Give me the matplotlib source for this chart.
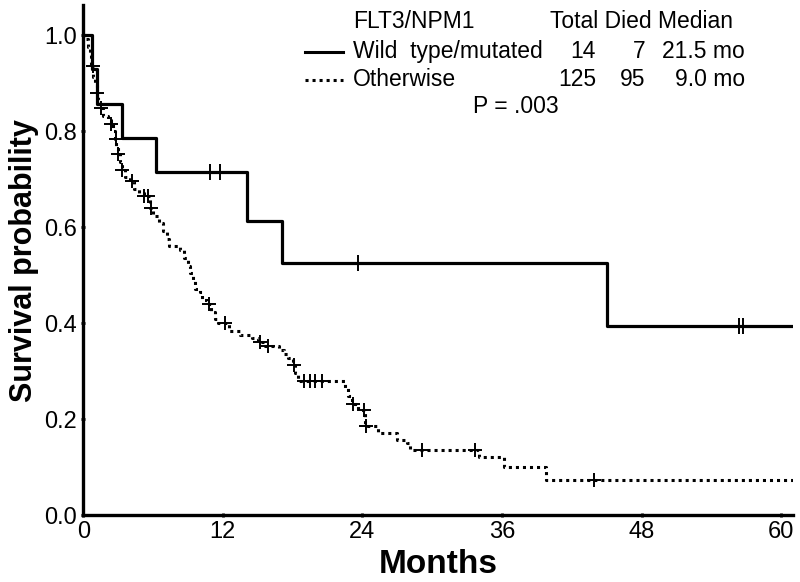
import numpy as np
import matplotlib
matplotlib.use("Agg")
import matplotlib.pyplot as plt
from matplotlib.lines import Line2D

plt.rcParams['font.family'] = ['Liberation Sans Narrow', 'Liberation Sans', 'DejaVu Sans']

# FLT3 wild type / NPM1 mutated (n=14)
wt_t = [0, 0.75, 1.2, 3.3, 6.3, 14.1, 17.1, 45.0, 61.0]
wt_s = [1.0, 0.929, 0.857, 0.786, 0.714, 0.612, 0.525, 0.394, 0.394]
wt_cens = [10.9, 11.8, 23.6, 56.4, 56.7]

# otherwise (n=125)
oth_t = [0, 0.25, 0.4, 0.55, 0.7, 0.85, 1.0, 1.15, 1.3, 1.45, 1.7, 2.1, 2.4,
         2.55, 2.7, 2.85, 3.0, 3.15, 3.3, 3.6, 4.0, 4.4, 4.8, 5.2, 5.7, 6.0,
         6.5, 6.9, 7.2, 7.4, 8.3, 8.7, 9.0, 9.2, 9.4, 9.6, 10.0, 10.2, 10.6,
         11.0, 11.3, 11.6, 12.5, 13.5, 14.5, 15.0, 15.6, 16.8, 17.3, 17.6,
         18.0, 18.2, 18.5, 22.5, 22.8, 23.1, 23.6, 24.2, 25.3, 27.0, 27.8,
         28.1, 34.0, 36.2, 39.8, 61.0]
oth_s = [1.0, 0.992, 0.976, 0.96, 0.936, 0.912, 0.896, 0.88, 0.864, 0.848,
         0.832, 0.824, 0.816, 0.8, 0.784, 0.768, 0.752, 0.736, 0.72, 0.704,
         0.696, 0.68, 0.672, 0.664, 0.64, 0.624, 0.608, 0.592, 0.576, 0.56,
         0.552, 0.536, 0.52, 0.504, 0.488, 0.472, 0.464, 0.448, 0.44, 0.424,
         0.408, 0.4, 0.384, 0.376, 0.368, 0.36, 0.352, 0.344, 0.336, 0.328,
         0.312, 0.296, 0.28, 0.264, 0.248, 0.232, 0.22, 0.186, 0.171, 0.156,
         0.15, 0.136, 0.12, 0.1, 0.073, 0.073]
oth_cens = [0.8, 1.2, 1.5, 2.4, 2.8, 3.0, 3.3, 4.2, 5.2, 5.6, 5.8, 10.8,
            12.2, 15.2, 15.9, 18.1, 19.0, 19.5, 19.9, 20.5, 23.2, 24.1, 24.3,
            29.1, 33.7, 43.9]

groups = ['Wild  type/mutated', 'Otherwise']
totals = [14, 125]
died = [7, 95]
medians = ['21.5 mo', '9.0 mo']
p_text = 'P = .003'


def level(times, surv, t):
    idx = np.searchsorted(times, t, side='right') - 1
    return np.asarray(surv)[idx]


fig = plt.figure(figsize=(8, 5.82), dpi=100)
ax = fig.add_axes([0.104, 0.115, 0.887, 0.876])

ax.plot(wt_t, wt_s, drawstyle='steps-post', color='black', lw=2.3)
ax.plot(wt_cens, level(wt_t, wt_s, wt_cens), ls='none', marker='|',
        ms=11, mew=1.4, color='black')

ax.plot(oth_t, oth_s, drawstyle='steps-post', color='black', lw=2.2,
        ls=(0, (1, 1.3)))
ax.plot(oth_cens, level(oth_t, oth_s, oth_cens), ls='none', marker='+',
        ms=10, mew=1.4, color='black')

ax.set_xlim(0, 61)
ax.set_ylim(0, 1.0625)
ax.set_xticks([0, 12, 24, 36, 48, 60])
ax.set_yticks([0.0, 0.2, 0.4, 0.6, 0.8, 1.0])
ax.set_yticklabels(['0.0', '0.2', '0.4', '0.6', '0.8', '1.0'])
for s in ['top', 'right']:
    ax.spines[s].set_visible(False)
for s in ['left', 'bottom']:
    ax.spines[s].set_linewidth(2.4)
ax.tick_params(direction='inout', length=3, width=2, labelsize=17, pad=3)
ax.set_xlabel('Months', fontsize=24, fontweight='bold', labelpad=4)
ax.set_ylabel('Survival probability', fontsize=22, fontweight='bold',
              labelpad=4)

# legend table
leg = dict(fontsize=16.5, family=['Liberation Sans', 'DejaVu Sans'],
           va='center', color='black')
fig.text(353 / 800, 1 - 21.7 / 582, 'FLT3/NPM1', ha='left', **leg)
fig.text(550 / 800, 1 - 21.7 / 582, 'Total Died Median', ha='left', **leg)
rows_y = [51.7, 80.0]
styles = ['-', (0, (1, 1.3))]
for i in range(2):
    y = 1 - rows_y[i] / 582
    fig.add_artist(Line2D([305 / 800, 343 / 800], [y, y], color='black',
                          lw=2.2, ls=styles[i]))
    fig.text(353 / 800, y, groups[i], ha='left', **leg)
    fig.text(596 / 800, y, str(totals[i]), ha='right', **leg)
    fig.text(645 / 800, y, str(died[i]), ha='right', **leg)
    fig.text(745 / 800, y, medians[i], ha='right', **leg)
fig.text(516 / 800, 1 - 106.7 / 582, p_text, ha='center', **leg)

fig.savefig('out.png', dpi=100)
